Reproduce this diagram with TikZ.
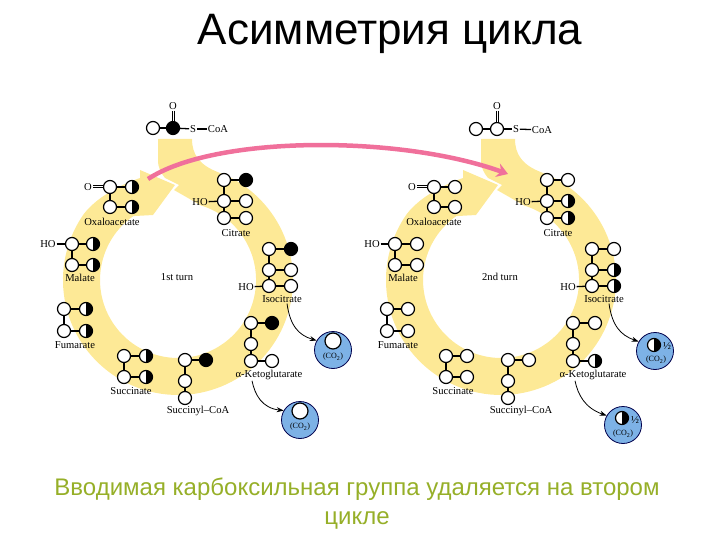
\documentclass[tikz,border=0pt]{standalone}
\usepackage{fontspec}
\setmainfont{Liberation Serif}
\newfontfamily\slidefont{Liberation Sans}
\usetikzlibrary{arrows.meta}
\definecolor{ringyellow}{RGB}{253,233,150}
\definecolor{arrowpink}{RGB}{240,112,155}
\definecolor{co2blue}{RGB}{125,178,230}
\definecolor{captiongreen}{RGB}{150,175,40}
\tikzset{
  atom/.style={circle,draw=black,line width=1.2pt,fill=white,minimum size=13pt,inner sep=0pt},
  blackatom/.style={atom,fill=black},
  halfatom/.style={atom,path picture={\fill [black] (path picture bounding box.north) rectangle (path picture bounding box.south east);}},
  chem/.style={inner sep=0.75pt,font=\fontsize{10.6}{10.6}\selectfont},
  tiny/.style={inner sep=0.75pt,font=\fontsize{8}{8}\selectfont},
  bond/.style={line width=1.3pt},
  dblbond/.style={double,line width=1pt,double distance=1pt},
  co2ball/.style={circle,draw=black!70!blue,line width=0.8pt,fill=co2blue,minimum size=37pt,inner sep=0pt},
  lossarrow/.style={line width=0.8pt,-{Stealth[length=7pt,width=5pt]}},
}
\begin{document}
\begin{tikzpicture}[x=1pt,y=1pt,yscale=-1,xscale=1]
\useasboundingbox (0,0) rectangle (720,540);

%Shape: Ring first turn
\fill [ringyellow] (158,139) -- (192,139) .. controls (192,155) and (200,165) .. (217.3,171.9) arc [start angle=-70,end angle=215,radius=115] .. controls (97,197) and (120,185) .. (140,178) -- (140,170) -- (175,185) -- (153,215) -- (133.3,216.1) arc [start angle=235,end angle=-73,radius=78] -- (174,190) -- (179,185) -- (165,178) .. controls (161,173) and (158,168) .. (158,160) -- cycle ;
%Shape: Ring second turn
\fill [ringyellow] (481,139) -- (515,139) .. controls (515,155) and (523,165) .. (540.3,171.9) arc [start angle=-70,end angle=215,radius=115] .. controls (420,197) and (443,185) .. (463,178) -- (463,170) -- (498,185) -- (476,215) -- (456.3,216.1) arc [start angle=235,end angle=-73,radius=78] -- (497,190) -- (502,185) -- (488,178) .. controls (484,173) and (481,168) .. (481,160) -- cycle ;

% Text Node
\draw (390,34) node (title) [font=\slidefont\fontsize{44}{44}\selectfont] {Асимметрия цикла};
% Text Node
\draw (357,489) node (captionA) [font=\slidefont\fontsize{24}{24}\selectfont,text=captiongreen] {Вводимая карбоксильная группа удаляется на втором};
% Text Node
\draw (357,520) node (captionB) [font=\slidefont\fontsize{24}{24}\selectfont,text=captiongreen] {цикле};

%First turn: acetyl
\draw (173,106) node (fAceO) [chem] {O};
\draw (153,128) node (fAceA) [atom] {};
\draw (173,128) node (fAceB) [blackatom] {};
\draw (193,129) node (fAceS) [chem] {S};
\draw (218,129) node (fAceC) [chem] {CoA};
\draw [bond] (fAceA) -- (fAceB);
\draw [bond] (fAceB) -- (fAceS);
\draw [dblbond] (fAceO) -- (fAceB);
\draw [bond] (fAceS) -- (fAceC);
%First turn: oxaloacetate
\draw (88,187) node (fOxaO) [chem] {O};
\draw (110,187) node (fOxaA) [atom] {};
\draw (132,187) node (fOxaB) [halfatom] {};
\draw (110,207) node (fOxaC) [atom] {};
\draw (132,207) node (fOxaD) [halfatom] {};
\draw (112,222) node (fOxaL) [chem] {Oxaloacetate};
\draw [dblbond] (fOxaO) -- (fOxaA);
\draw [bond] (fOxaA) -- (fOxaB);
\draw [bond] (fOxaA) -- (fOxaC);
\draw [bond] (fOxaC) -- (fOxaD);
%First turn: malate
\draw (48,244) node (fMalO) [chem] {HO};
\draw (72,244) node (fMalA) [atom] {};
\draw (93,244) node (fMalB) [halfatom] {};
\draw (72,265) node (fMalC) [atom] {};
\draw (93,265) node (fMalD) [halfatom] {};
\draw (80,278) node (fMalL) [chem] {Malate};
\draw [bond] (fMalO) -- (fMalA);
\draw [bond] (fMalA) -- (fMalB);
\draw [bond] (fMalA) -- (fMalC);
\draw [bond] (fMalC) -- (fMalD);
%First turn: fumarate
\draw (64,309) node (fFumA) [atom] {};
\draw (86,309) node (fFumB) [halfatom] {};
\draw (64,331) node (fFumC) [atom] {};
\draw (86,331) node (fFumD) [halfatom] {};
\draw (75,345) node (fFumL) [chem] {Fumarate};
\draw [bond] (fFumA) -- (fFumB);
\draw [bond] (fFumA) -- (fFumC);
\draw [bond] (fFumC) -- (fFumD);
%First turn: succinate
\draw (124,356) node (fSucA) [atom] {};
\draw (146,356) node (fSucB) [halfatom] {};
\draw (124,377) node (fSucC) [atom] {};
\draw (146,377) node (fSucD) [halfatom] {};
\draw (131,391) node (fSucL) [chem] {Succinate};
\draw [bond] (fSucA) -- (fSucB);
\draw [bond] (fSucA) -- (fSucC);
\draw [bond] (fSucC) -- (fSucD);
%First turn: succinyl-CoA
\draw (185,360) node (fScoA) [atom] {};
\draw (206,360) node (fScoB) [blackatom] {};
\draw (185,381) node (fScoC) [atom] {};
\draw (185,398) node (fScoD) [atom] {};
\draw (198,411) node (fScoL) [chem] {Succinyl–CoA};
\draw [bond] (fScoA) -- (fScoB);
\draw [bond] (fScoA) -- (fScoC);
\draw [bond] (fScoC) -- (fScoD);
%First turn: ketoglutarate
\draw (251,323) node (fKetA) [atom] {};
\draw (272,323) node (fKetB) [blackatom] {};
\draw (251,344) node (fKetC) [atom] {};
\draw (251,361) node (fKetD) [atom] {};
\draw (272,361) node (fKetE) [atom] {};
\draw (269,375) node (fKetL) [chem] {α-Ketoglutarate};
\draw [bond] (fKetA) -- (fKetB);
\draw [bond] (fKetA) -- (fKetC);
\draw [bond] (fKetC) -- (fKetD);
\draw [bond] (fKetD) -- (fKetE);
%First turn: isocitrate
\draw (269,249) node (fIsoA) [atom] {};
\draw (291,249) node (fIsoB) [blackatom] {};
\draw (269,270) node (fIsoC) [atom] {};
\draw (291,270) node (fIsoD) [atom] {};
\draw (269,286) node (fIsoE) [atom] {};
\draw (291,286) node (fIsoF) [atom] {};
\draw (246,287) node (fIsoO) [chem] {HO};
\draw (282,299) node (fIsoL) [chem] {Isocitrate};
\draw [bond] (fIsoA) -- (fIsoB);
\draw [bond] (fIsoA) -- (fIsoC);
\draw [bond] (fIsoC) -- (fIsoD);
\draw [bond] (fIsoC) -- (fIsoE);
\draw [bond] (fIsoE) -- (fIsoF);
\draw [bond] (fIsoO) -- (fIsoE);
%First turn: citrate
\draw (224,180) node (fCitA) [atom] {};
\draw (246,180) node (fCitB) [blackatom] {};
\draw (224,201) node (fCitC) [atom] {};
\draw (246,201) node (fCitD) [atom] {};
\draw (224,218) node (fCitE) [atom] {};
\draw (246,218) node (fCitF) [atom] {};
\draw (200,202) node (fCitO) [chem] {HO};
\draw (236,233) node (fCitL) [chem] {Citrate};
\draw [bond] (fCitA) -- (fCitB);
\draw [bond] (fCitA) -- (fCitC);
\draw [bond] (fCitC) -- (fCitD);
\draw [bond] (fCitC) -- (fCitE);
\draw [bond] (fCitE) -- (fCitF);
\draw [bond] (fCitO) -- (fCitC);
% Text Node
\draw (177,277) node (fTurn) [chem] {1st turn};
%First turn: released carbon dioxide
\draw (333,350) node (fLossA) [co2ball] {};
\draw (333,341) node (fLossAa) [atom,minimum size=16pt] {};
\draw (333,357) node (fLossAt) [tiny] {(CO\textsubscript{2})};
\draw (300,420) node (fLossB) [co2ball] {};
\draw (300,411) node (fLossBa) [atom,minimum size=16pt] {};
\draw (300,427) node (fLossBt) [tiny] {(CO\textsubscript{2})};
%Curve Lines
\draw [lossarrow] ([xshift=5pt]fIsoL.south) .. controls (290,325) and (298,335) .. (fLossA.150);
\draw [lossarrow] ([xshift=-17pt]fKetL.south) .. controls (255,395) and (262,408) .. (fLossB.150);

%Second turn: acetyl
\draw (497,106) node (sAceO) [chem] {O};
\draw (476,129) node (sAceA) [atom] {};
\draw (497,129) node (sAceB) [atom] {};
\draw (516,129) node (sAceS) [chem] {S};
\draw (542,130) node (sAceC) [chem] {CoA};
\draw [bond] (sAceA) -- (sAceB);
\draw [bond] (sAceB) -- (sAceS);
\draw [dblbond] (sAceO) -- (sAceB);
\draw [bond] (sAceS) -- (sAceC);
%Second turn: oxaloacetate
\draw (412,187) node (sOxaO) [chem] {O};
\draw (434,187) node (sOxaA) [atom] {};
\draw (455,187) node (sOxaB) [atom] {};
\draw (434,207) node (sOxaC) [atom] {};
\draw (455,207) node (sOxaD) [atom] {};
\draw (434,222) node (sOxaL) [chem] {Oxaloacetate};
\draw [dblbond] (sOxaO) -- (sOxaA);
\draw [bond] (sOxaA) -- (sOxaB);
\draw [bond] (sOxaA) -- (sOxaC);
\draw [bond] (sOxaC) -- (sOxaD);
%Second turn: malate
\draw (372,244) node (sMalO) [chem] {HO};
\draw (395,244) node (sMalA) [atom] {};
\draw (417,244) node (sMalB) [atom] {};
\draw (395,265) node (sMalC) [atom] {};
\draw (417,265) node (sMalD) [atom] {};
\draw (403,278) node (sMalL) [chem] {Malate};
\draw [bond] (sMalO) -- (sMalA);
\draw [bond] (sMalA) -- (sMalB);
\draw [bond] (sMalA) -- (sMalC);
\draw [bond] (sMalC) -- (sMalD);
%Second turn: fumarate
\draw (387,309) node (sFumA) [atom] {};
\draw (408,309) node (sFumB) [atom] {};
\draw (387,331) node (sFumC) [atom] {};
\draw (408,331) node (sFumD) [atom] {};
\draw (398,345) node (sFumL) [chem] {Fumarate};
\draw [bond] (sFumA) -- (sFumB);
\draw [bond] (sFumA) -- (sFumC);
\draw [bond] (sFumC) -- (sFumD);
%Second turn: succinate
\draw (446,356) node (sSucA) [atom] {};
\draw (467,356) node (sSucB) [atom] {};
\draw (446,377) node (sSucC) [atom] {};
\draw (467,377) node (sSucD) [atom] {};
\draw (453,391) node (sSucL) [chem] {Succinate};
\draw [bond] (sSucA) -- (sSucB);
\draw [bond] (sSucA) -- (sSucC);
\draw [bond] (sSucC) -- (sSucD);
%Second turn: succinyl-CoA
\draw (508,360) node (sScoA) [atom] {};
\draw (529,360) node (sScoB) [atom] {};
\draw (508,381) node (sScoC) [atom] {};
\draw (508,398) node (sScoD) [atom] {};
\draw (521,411) node (sScoL) [chem] {Succinyl–CoA};
\draw [bond] (sScoA) -- (sScoB);
\draw [bond] (sScoA) -- (sScoC);
\draw [bond] (sScoC) -- (sScoD);
%Second turn: ketoglutarate
\draw (573,323) node (sKetA) [atom] {};
\draw (595,323) node (sKetB) [atom] {};
\draw (573,344) node (sKetC) [atom] {};
\draw (573,361) node (sKetD) [atom] {};
\draw (595,361) node (sKetE) [halfatom] {};
\draw (593,375) node (sKetL) [chem] {α-Ketoglutarate};
\draw [bond] (sKetA) -- (sKetB);
\draw [bond] (sKetA) -- (sKetC);
\draw [bond] (sKetC) -- (sKetD);
\draw [bond] (sKetD) -- (sKetE);
%Second turn: isocitrate
\draw (592,249) node (sIsoA) [atom] {};
\draw (614,249) node (sIsoB) [atom] {};
\draw (592,270) node (sIsoC) [atom] {};
\draw (614,270) node (sIsoD) [halfatom] {};
\draw (592,286) node (sIsoE) [atom] {};
\draw (614,286) node (sIsoF) [halfatom] {};
\draw (568,287) node (sIsoO) [chem] {HO};
\draw (604,299) node (sIsoL) [chem] {Isocitrate};
\draw [bond] (sIsoA) -- (sIsoB);
\draw [bond] (sIsoA) -- (sIsoC);
\draw [bond] (sIsoC) -- (sIsoD);
\draw [bond] (sIsoC) -- (sIsoE);
\draw [bond] (sIsoE) -- (sIsoF);
\draw [bond] (sIsoO) -- (sIsoE);
%Second turn: citrate
\draw (547,180) node (sCitA) [atom] {};
\draw (568,180) node (sCitB) [atom] {};
\draw (547,201) node (sCitC) [atom] {};
\draw (568,201) node (sCitD) [halfatom] {};
\draw (547,218) node (sCitE) [atom] {};
\draw (568,218) node (sCitF) [halfatom] {};
\draw (523,202) node (sCitO) [chem] {HO};
\draw (558,233) node (sCitL) [chem] {Citrate};
\draw [bond] (sCitA) -- (sCitB);
\draw [bond] (sCitA) -- (sCitC);
\draw [bond] (sCitC) -- (sCitD);
\draw [bond] (sCitC) -- (sCitE);
\draw [bond] (sCitE) -- (sCitF);
\draw [bond] (sCitO) -- (sCitC);
% Text Node
\draw (500,277) node (sTurn) [chem] {2nd turn};
%Second turn: released carbon dioxide
\draw (655,351) node (sLossA) [co2ball] {};
\draw (654,345) node (sLossAa) [halfatom] {};
\draw (667,346) node (sLossAh) [chem] {½};
\draw (656,360) node (sLossAt) [tiny] {(CO\textsubscript{2})};
\draw (623,425) node (sLossB) [co2ball] {};
\draw (622,418) node (sLossBa) [halfatom] {};
\draw (635,420) node (sLossBh) [chem] {½};
\draw (623,434) node (sLossBt) [tiny] {(CO\textsubscript{2})};
%Curve Lines
\draw [lossarrow] ([xshift=5pt]sIsoL.south) .. controls (612,325) and (620,335) .. (sLossA.150);
\draw [lossarrow] ([xshift=-18pt]sKetL.south) .. controls (578,395) and (585,408) .. (sLossB.150);

%Curve Lines
\coordinate (pinkA) at (148,179);
\coordinate (pinkB) at (508,174);
\draw [arrowpink,line width=4.5pt,-{Stealth[length=11pt,width=14pt]}] (pinkA) .. controls (215,135) and (400,135) .. (pinkB);
\end{tikzpicture}
\end{document}
